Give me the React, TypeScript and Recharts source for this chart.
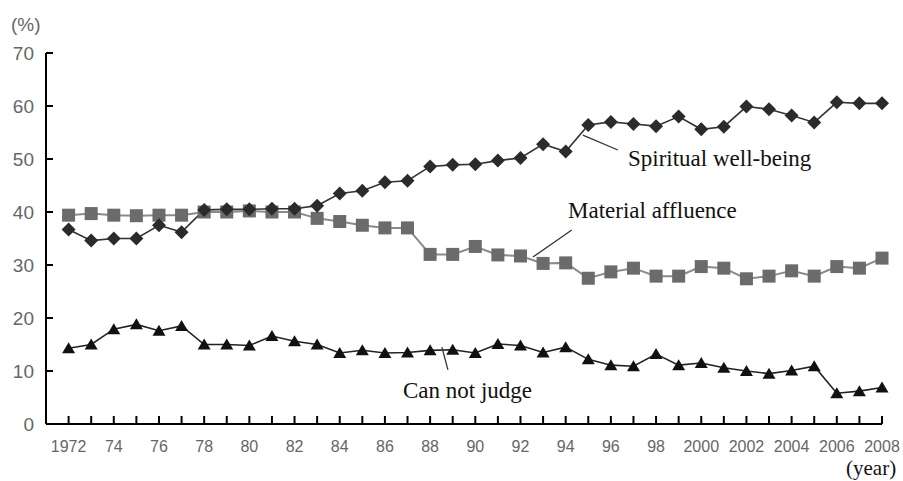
import React from "react";
import { LineChart, Line, XAxis, YAxis, ReferenceLine } from "recharts";

const years = [
  1972, 1973, 1974, 1975, 1976, 1977, 1978, 1979, 1980, 1981, 1982, 1983,
  1984, 1985, 1986, 1987, 1988, 1989, 1990, 1991, 1992, 1993, 1994, 1995,
  1996, 1997, 1998, 1999, 2000, 2001, 2002, 2003, 2004, 2005, 2006, 2007, 2008,
];

const spiritual = [
  36.7, 34.6, 35, 35, 37.5, 36.2, 40.4, 40.5, 40.5, 40.6, 40.6, 41.2,
  43.5, 44, 45.6, 45.9, 48.6, 48.9, 49, 49.7, 50.2, 52.8, 51.4, 56.4,
  57, 56.6, 56.2, 58, 55.6, 56.1, 59.9, 59.4, 58.2, 56.9, 60.7, 60.5, 60.5,
];

const material = [
  39.4, 39.7, 39.4, 39.3, 39.4, 39.4, 40, 40, 40.2, 40, 40, 38.8,
  38.2, 37.5, 37, 37, 32, 32, 33.5, 31.9, 31.7, 30.3, 30.4, 27.5,
  28.7, 29.4, 27.9, 27.9, 29.7, 29.4, 27.4, 27.9, 28.9, 27.9, 29.7, 29.4, 31.3,
];

const cannotJudge = [
  14.3, 15, 17.9, 18.8, 17.6, 18.5, 15, 15, 14.8, 16.6, 15.6, 15,
  13.4, 13.9, 13.4, 13.5, 13.9, 14, 13.4, 15.1, 14.8, 13.5, 14.5, 12.2,
  11.1, 10.9, 13.2, 11.1, 11.5, 10.6, 10, 9.5, 10.1, 10.9, 5.8, 6.2, 6.9,
];

const yTicks = [0, 10, 20, 30, 40, 50, 60, 70];

const data = years.map((year, i) => ({
  year,
  spiritual: spiritual[i],
  material: material[i],
  cannotJudge: cannotJudge[i],
}));

const yearLabel = (y: number) => {
  if (y % 2 !== 0) return "";
  if (y === 1972 || y >= 2000) return String(y);
  return String(y).slice(2);
};

const XTick = (props: any) => {
  const { x, y, payload } = props;
  return (
    <g>
      <line x1={x} y1={y} x2={x} y2={y - 8} stroke="#000" strokeWidth={2} />
      <text
        x={x}
        y={y + 28}
        textAnchor="middle"
        fill="#666"
        fontSize={16}
        fontFamily="Liberation Sans, Arial, sans-serif"
      >
        {yearLabel(payload.value)}
      </text>
    </g>
  );
};

const YTick = (props: any) => {
  const { x, y, payload } = props;
  return (
    <g>
      <line x1={x} y1={y} x2={x + 7} y2={y} stroke="#000" strokeWidth={2} />
      <text
        x={x - 12}
        y={y + 7}
        textAnchor="end"
        fill="#666"
        fontSize={19}
        fontFamily="Liberation Sans, Arial, sans-serif"
      >
        {payload.value}
      </text>
    </g>
  );
};

const Diamond = (props: any) => {
  const { cx, cy } = props;
  if (cx == null || cy == null) return <g key={props.index} />;
  return (
    <path
      key={props.index}
      d={`M${cx},${cy - 7} L${cx + 7},${cy} L${cx},${cy + 7} L${cx - 7},${cy} Z`}
      fill="#2b2b2b"
    />
  );
};

const Square = (props: any) => {
  const { cx, cy } = props;
  if (cx == null || cy == null) return <g key={props.index} />;
  return (
    <rect key={props.index} x={cx - 6.5} y={cy - 6.5} width={13} height={13} fill="#6b6b6b" />
  );
};

const Triangle = (props: any) => {
  const { cx, cy } = props;
  if (cx == null || cy == null) return <g key={props.index} />;
  return (
    <path
      key={props.index}
      d={`M${cx},${cy - 6} L${cx + 6.5},${cy + 5} L${cx - 6.5},${cy + 5} Z`}
      fill="#111"
    />
  );
};

const serif = "Liberation Serif, Times New Roman, serif";

export default function App() {
  return (
    <div style={{ position: "absolute", left: 0, top: 0, width: 903, height: 481, background: "#fff" }}>
      <LineChart
        width={903}
        height={481}
        data={data}
        margin={{ top: 53, right: 21, bottom: 27, left: 10 }}
      >
        <XAxis
          dataKey="year"
          type="number"
          domain={[1971, 2008]}
          ticks={years}
          interval={0}
          tickSize={0}
          tickMargin={0}
          tickLine={false}
          height={30}
          axisLine={{ stroke: "#000", strokeWidth: 2 }}
          tick={<XTick />}
        />
        <YAxis
          type="number"
          domain={[0, 70]}
          ticks={yTicks}
          interval={0}
          tickSize={0}
          tickMargin={0}
          tickLine={false}
          width={36}
          axisLine={{ stroke: "#000", strokeWidth: 2 }}
          tick={<YTick />}
        />
        <Line
          dataKey="material"
          stroke="#8a8a8a"
          strokeWidth={2}
          dot={(p: any) => <Square key={p.index} {...p} />}
          activeDot={false}
          isAnimationActive={false}
        />
        <Line
          dataKey="spiritual"
          stroke="#333"
          strokeWidth={1.6}
          dot={(p: any) => <Diamond key={p.index} {...p} />}
          activeDot={false}
          isAnimationActive={false}
        />
        <Line
          dataKey="cannotJudge"
          stroke="#222"
          strokeWidth={1.6}
          dot={(p: any) => <Triangle key={p.index} {...p} />}
          activeDot={false}
          isAnimationActive={false}
        />
        <ReferenceLine
          segment={[{ x: 1994.76, y: 54.5 }, { x: 1996.31, y: 51.7 }]}
          stroke="#333"
          strokeWidth={1.3}
        />
        <ReferenceLine
          segment={[{ x: 1992.55, y: 31.5 }, { x: 1994.27, y: 36.6 }]}
          stroke="#333"
          strokeWidth={1.3}
        />
        <ReferenceLine
          segment={[{ x: 1988.52, y: 14.5 }, { x: 1988.79, y: 10.2 }]}
          stroke="#333"
          strokeWidth={1.3}
        />
      </LineChart>
      <svg
        width={903}
        height={481}
        style={{ position: "absolute", left: 0, top: 0, pointerEvents: "none" }}
      >
        <text x={11} y={31} fill="#666" fontSize={19} fontFamily="Liberation Sans, Arial, sans-serif">
          (%)
        </text>
        <text x={628} y={166} fill="#111" fontSize={23} fontFamily={serif}>
          Spiritual well-being
        </text>
        <text x={568} y={218} fill="#111" fontSize={23} fontFamily={serif}>
          Material affluence
        </text>
        <text x={403} y={398} fill="#111" fontSize={23} fontFamily={serif}>
          Can not judge
        </text>
        <text x={846} y={475} fill="#111" fontSize={21} fontFamily={serif}>
          (year)
        </text>
      </svg>
    </div>
  );
}
